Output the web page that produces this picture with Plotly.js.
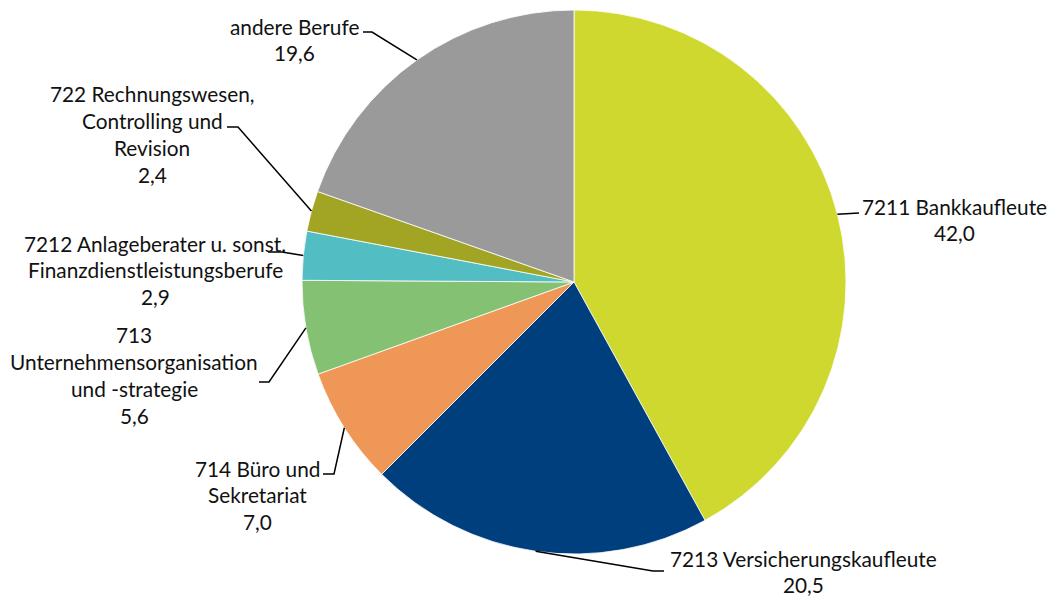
<!DOCTYPE html>
<html>
<head>
<meta charset="utf-8">
<script src="https://cdn.plot.ly/plotly-3.0.1.min.js"></script>
<style>html,body{margin:0;padding:0;background:#fff;}#chart{width:1047px;height:597px;}</style>
</head>
<body>
<div id="chart"></div>
<script>
// ---- data ----
const categories = [
  '7211 Bankkaufleute',
  '7213 Versicherungskaufleute',
  '714 Büro und Sekretariat',
  '713 Unternehmensorganisation und -strategie',
  '7212 Anlageberater u. sonst. Finanzdienstleistungsberufe',
  '722 Rechnungswesen, Controlling und Revision',
  'andere Berufe'
];
const shares = [42.0, 20.5, 7.0, 5.6, 2.9, 2.4, 19.6];
const labelTextLines = [
  ['7211 Bankkaufleute'],
  ['7213 Versicherungskaufleute'],
  ['714 Büro und', 'Sekretariat'],
  ['713', 'Unternehmensorganisation', 'und -strategie'],
  ['7212 Anlageberater u. sonst.', 'Finanzdienstleistungsberufe'],
  ['722 Rechnungswesen,', 'Controlling und', 'Revision'],
  ['andere Berufe']
];
const sliceColors = ['#CFD82F', '#003F7D', '#EF9756', '#84C173', '#52BDC2', '#A2A524', '#9A9A9A'];

// ---- layout (pixels) ----
const W = 1047, H = 597;
const CX = 574, CY = 282, R = 272;
const FONT = 'Lato, "Open Sans", sans-serif';
const FSIZE = 20.8;
const LINE_H = 26.9;
// label placement: text centre x, first-line centre y, elbow point, line end point
const labelPos = [
  {cx: 954, y: 206, elbow: [859, 213], end: [859, 213]},
  {cx: 803, y: 558, elbow: [653, 571], end: [664, 571]},
  {cx: 257, y: 468, elbow: [334, 474], end: [323, 474]},
  {cx: 134, y: 335, elbow: [269, 382], end: [259, 382]},
  {cx: 155, y: 243, elbow: [282, 252], end: [268, 252]},
  {cx: 152, y: 94,  elbow: [238, 127], end: [227, 127]},
  {cx: 294, y: 26,  elbow: [372, 32],  end: [363, 32]}
];

const px = x => x / W;
const py = y => 1 - y / H;
const fmt = v => v.toFixed(1).replace('.', ',');

const total = shares.reduce((a, b) => a + b, 0);
let cum = 0;
const annotations = [];
const shapes = [];
shares.forEach((v, i) => {
  const mid = (cum + v / 2) / total * 2 * Math.PI;
  cum += v;
  const ex = CX + R * Math.sin(mid);
  const ey = CY - R * Math.cos(mid);
  const p = labelPos[i];
  const lines = labelTextLines[i].concat([fmt(v)]);
  lines.forEach((t, k) => {
    annotations.push({
      xref: 'paper', yref: 'paper',
      x: px(p.cx), y: py(p.y + k * LINE_H),
      xanchor: 'center', yanchor: 'middle',
      text: t, showarrow: false,
      font: {family: FONT, size: FSIZE, color: '#111111'}
    });
  });
  shapes.push({
    type: 'path', xref: 'paper', yref: 'paper',
    path: `M ${px(ex)} ${py(ey)} L ${px(p.elbow[0])} ${py(p.elbow[1])} L ${px(p.end[0])} ${py(p.end[1])}`,
    line: {color: '#000000', width: 1.5}
  });
});

const trace = {
  type: 'pie',
  labels: categories,
  values: shares,
  sort: false,
  direction: 'clockwise',
  rotation: 0,
  textinfo: 'none',
  hoverinfo: 'label+value',
  marker: {colors: sliceColors, line: {color: '#ffffff', width: 0.8}},
  domain: {x: [px(CX - R), px(CX + R)], y: [py(CY + R), py(CY - R)]},
  showlegend: false
};

Plotly.newPlot('chart', [trace], {
  width: W, height: H,
  margin: {l: 0, r: 0, t: 0, b: 0},
  paper_bgcolor: '#ffffff',
  showlegend: false,
  annotations: annotations,
  shapes: shapes
}, {displayModeBar: false, staticPlot: true});
</script>
</body>
</html>
